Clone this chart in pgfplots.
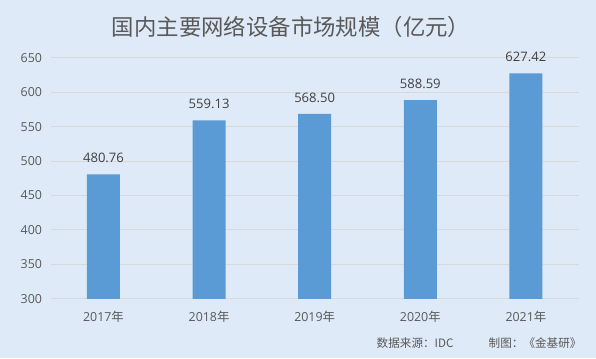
\documentclass[border=0pt]{standalone}
\usepackage{pgfplots}
\pgfplotsset{compat=1.18}
\usepackage{fontspec}
\setmainfont{Open Sans}
\newfontfamily\cjk{Noto Sans CJK SC}
\definecolor{bg}{HTML}{DEEAF7}
\definecolor{barc}{HTML}{5B9BD5}
\definecolor{txt}{HTML}{595959}
\definecolor{lbl}{HTML}{404040}
\definecolor{gridc}{HTML}{D9D9D9}
\begin{document}
\begin{tikzpicture}[x=0.75pt,y=0.75pt]
\fill[bg] (0,0) rectangle (596,358);
\node[txt,font=\cjk\fontsize{16.8}{20}\selectfont] at (291,331) {国内主要网络设备市场规模（亿元）};
\node[txt,font=\cjk\fontsize{8.7}{10}\selectfont,anchor=west] at (372,15) {数据来源：IDC};
\node[txt,font=\cjk\fontsize{8.7}{10}\selectfont,anchor=west] at (484,15) {制图：《金基研》};
\begin{axis}[
  at={(48,86)}, anchor=south west,
  scale only axis, width=396pt, height=180.75pt,
  xmin=-0.5, xmax=4.5, ymin=300, ymax=650,
  ytick={300,350,...,650},
  xtick={0,1,2,3,4},
  xticklabels={2017{\cjk 年},2018{\cjk 年},2019{\cjk 年},2020{\cjk 年},2021{\cjk 年}},
  axis line style={draw=none},
  major tick length=0pt,
  ymajorgrids, grid style={gridc, line width=0.8pt},
  tick label style={txt, font=\fontsize{9.3}{11}\selectfont},
  /pgf/number format/assume math mode=true,
  yticklabel style={xshift=-3pt},
  xticklabel style={yshift=-6pt},
  clip=false,
  nodes near coords,
  nodes near coords style={lbl, font=\fontsize{9.8}{12}\selectfont, yshift=5pt},
  point meta=explicit symbolic,
]
\addplot[ybar, bar width=24.75pt, fill=barc, draw=none, bar shift=0pt]
coordinates {(0,480.76)[480.76] (1,559.13)[559.13] (2,568.50)[568.50] (3,588.59)[588.59] (4,627.42)[627.42]};
\end{axis}
\end{tikzpicture}
\end{document}
